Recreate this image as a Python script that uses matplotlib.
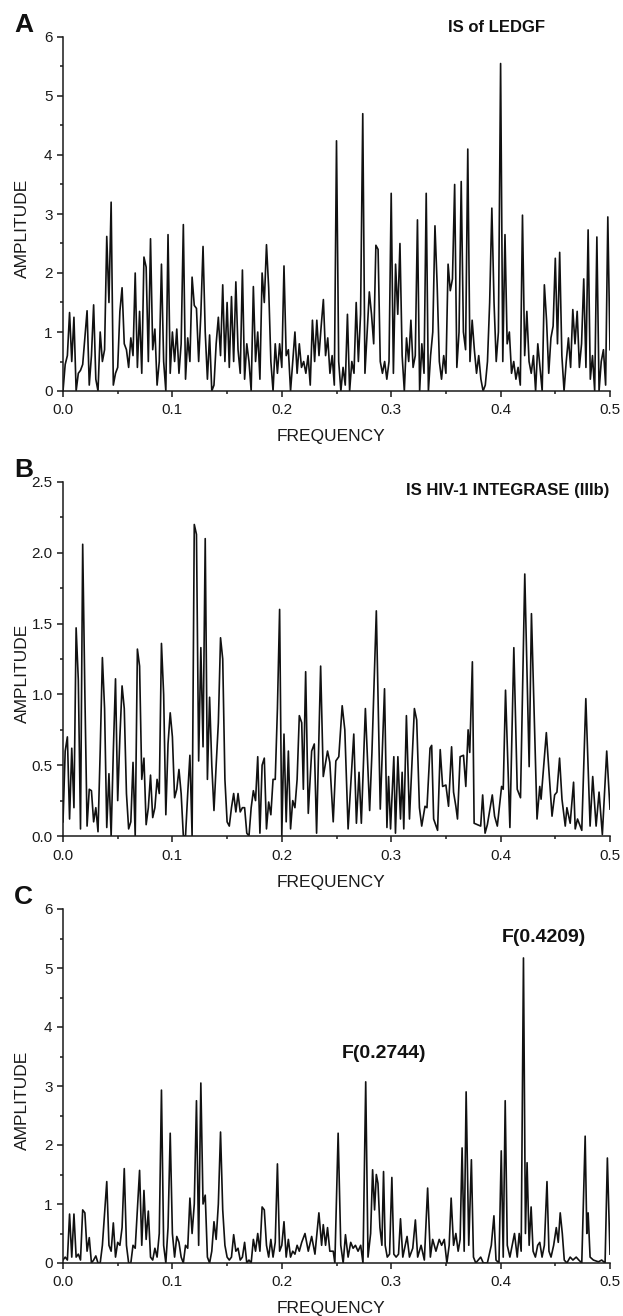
import numpy as np
import matplotlib
matplotlib.use("Agg")
import matplotlib.pyplot as plt
from matplotlib.ticker import MultipleLocator

plt.rcParams['font.family'] = ['Liberation Sans', 'DejaVu Sans']

# ---- panel A: IS of LEDGF (grid step 0.002) ----
freq_a = np.round(np.arange(0, 0.5001, 0.002), 3)
amp_a = [
    0.0, 0.45, 0.6, 1.33, 0.5, 1.25, 0.0, 0.3, 0.35, 0.45,
    0.9, 1.36, 0.1, 0.6, 1.46, 0.2, 0.0, 1.0, 0.5, 0.7,
    2.62, 1.5, 3.2, 0.1, 0.3, 0.4, 1.35, 1.75, 0.8, 0.7,
    0.4, 0.9, 0.6, 2.0, 0.4, 1.35, 0.3, 2.27, 2.1, 0.5,
    2.58, 0.7, 1.05, 0.1, 0.5, 2.15, 0.5, 0.0, 2.65, 0.3,
    1.0, 0.5, 1.05, 0.3, 0.8, 2.82, 0.2, 0.9, 0.5, 1.93,
    1.45, 1.4, 0.5, 1.3, 2.45, 1.0, 0.2, 0.95, 0.0, 0.1,
    0.8, 1.25, 0.6, 1.8, 0.5, 1.5, 0.4, 1.6, 0.5, 1.85,
    0.7, 0.3, 2.05, 0.2, 0.8, 0.5, 0.0, 1.77, 0.5, 1.0,
    0.2, 2.0, 1.5, 2.48, 1.75, 0.5, 0.0, 0.8, 0.3, 0.8,
    0.4, 2.12, 0.6, 0.7, 0.0, 0.5, 1.0, 0.3, 0.8, 0.4,
    0.5, 0.3, 0.6, 0.1, 1.2, 0.5, 1.2, 0.6, 1.1, 1.55,
    0.6, 0.9, 0.3, 0.6, 0.1, 4.24, 0.5, 0.0, 0.4, 0.1,
    1.3, 0.0, 0.5, 0.3, 1.5, 0.5, 1.3, 4.7, 0.3, 1.0,
    1.68, 1.3, 0.8, 2.47, 2.4, 0.5, 0.3, 0.5, 0.2, 0.5,
    3.35, 0.3, 2.15, 1.3, 2.5, 0.6, 0.0, 0.9, 0.5, 1.2,
    0.4, 0.6, 2.9, 0.0, 0.8, 0.3, 3.35, 0.0, 0.6, 1.0,
    2.8, 1.8, 0.5, 0.2, 0.6, 0.3, 2.15, 1.7, 1.9, 3.5,
    0.4, 1.0, 3.55, 1.0, 0.7, 4.1, 0.5, 1.2, 0.7, 0.3,
    0.6, 0.2, 0.0, 0.1, 0.5, 1.5, 3.1, 1.5, 0.5, 1.0,
    5.55, 0.5, 2.65, 0.8, 1.0, 0.3, 0.5, 0.2, 0.4, 0.1,
    2.98, 0.6, 1.35, 0.5, 0.3, 0.6, 0.0, 0.8, 0.4, 0.0,
    1.8, 1.2, 0.3, 0.9, 1.1, 2.25, 0.8, 2.35, 0.6, 0.0,
    0.5, 0.9, 0.4, 1.38, 0.8, 1.35, 0.4, 0.8, 1.9, 0.4,
    2.73, 0.2, 0.6, 0.0, 2.61, 0.0, 0.5, 0.7, 0.1, 2.95,
    0.7,
]

# ---- panel B: IS HIV-1 INTEGRASE (IIIb) ----
freq_b_left = np.round(np.arange(0, 0.2161, 0.002), 3)
amp_b_left = [
    0.1, 0.6, 0.7, 0.12, 0.62, 0.2, 1.47, 1.1, 0.05, 2.06,
    1.0, 0.07, 0.33, 0.32, 0.1, 0.2, 0.03, 0.6, 1.26, 0.9,
    0.06, 0.44, 0.0, 0.6, 1.11, 0.25, 0.7, 1.06, 0.9, 0.3,
    0.05, 0.1, 0.52, 0.0, 1.32, 1.2, 0.4, 0.55, 0.08, 0.2,
    0.43, 0.13, 0.2, 0.4, 0.3, 1.36, 1.0, 0.15, 0.65, 0.87,
    0.7, 0.27, 0.33, 0.47, 0.3, 0.0, 0.0, 0.3, 0.57, 0.0,
    2.2, 2.13, 0.53, 1.33, 0.63, 2.1, 0.4, 0.98, 0.5, 0.18,
    0.5, 0.8, 1.4, 1.25, 0.4, 0.1, 0.07, 0.2, 0.3, 0.17,
    0.3, 0.17, 0.2, 0.2, 0.02, 0.0, 0.2, 0.32, 0.25, 0.56,
    0.02, 0.5, 0.55, 0.05, 0.24, 0.15, 0.4, 0.4, 0.9, 1.6,
    0.0, 0.72, 0.1, 0.6, 0.05, 0.25, 0.2, 0.4, 0.85,
]
freq_b_right = [
    0.2182, 0.2197, 0.2218, 0.2242, 0.2273, 0.2297, 0.2318, 0.2355, 0.2379, 0.2418,
    0.2439, 0.2470, 0.2494, 0.2521, 0.2552, 0.2576, 0.2606, 0.2658, 0.2682, 0.2706,
    0.2727, 0.2764, 0.2803, 0.2824, 0.2864, 0.2900, 0.2939, 0.2961, 0.2976, 0.2994,
    0.3024, 0.3039, 0.3061, 0.3085, 0.3100, 0.3115, 0.3139, 0.3167, 0.3212, 0.3233,
    0.3258, 0.3279, 0.3309, 0.3327, 0.3355, 0.3370, 0.3388, 0.3424, 0.3448, 0.3470,
    0.3500, 0.3524, 0.3552, 0.3570, 0.3591, 0.3606, 0.3630, 0.3661, 0.3682, 0.3703,
    0.3718, 0.3742, 0.3758, 0.3818, 0.3836, 0.3858, 0.3879, 0.3924, 0.3945, 0.3970,
    0.4009, 0.4024, 0.4045, 0.4085, 0.4121, 0.4152, 0.4182, 0.4221, 0.4261, 0.4282,
    0.4333, 0.4358, 0.4370, 0.4418, 0.4470, 0.4494, 0.4515, 0.4539, 0.4561, 0.4591,
    0.4606, 0.4636, 0.4667, 0.4682, 0.4703, 0.4742, 0.4779, 0.4818, 0.4842, 0.4873,
    0.4900, 0.4930, 0.4970, 0.5000,
]
amp_b_right = [
    0.80, 0.33, 1.16, 0.16, 0.60, 0.65, 0.02, 1.20, 0.42, 0.60,
    0.52, 0.10, 0.53, 0.56, 0.92, 0.75, 0.05, 0.72, 0.09, 0.45,
    0.09, 0.90, 0.18, 0.59, 1.59, 0.19, 1.04, 0.06, 0.42, 0.05,
    0.56, 0.02, 0.56, 0.12, 0.45, 0.05, 0.85, 0.12, 0.90, 0.82,
    0.20, 0.07, 0.21, 0.20, 0.62, 0.64, 0.12, 0.04, 0.61, 0.35,
    0.36, 0.21, 0.63, 0.31, 0.21, 0.12, 0.56, 0.57, 0.35, 0.75,
    0.59, 1.23, 0.09, 0.07, 0.29, 0.02, 0.08, 0.29, 0.14, 0.07,
    0.35, 0.33, 1.03, 0.06, 1.33, 0.33, 0.27, 1.85, 0.49, 1.57,
    0.12, 0.35, 0.26, 0.73, 0.14, 0.29, 0.31, 0.55, 0.26, 0.07,
    0.20, 0.09, 0.38, 0.05, 0.12, 0.04, 0.97, 0.07, 0.42, 0.07,
    0.31, 0.01, 0.60, 0.19,
]

# ---- panel C ----
freq_c_left = np.round(np.arange(0, 0.2161, 0.002), 3)
amp_c_left = [
    0.05, 0.1, 0.05, 0.83, 0.1, 0.83, 0.1, 0.15, 0.05, 0.9,
    0.85, 0.2, 0.43, 0.0, 0.05, 0.12, 0.0, 0.0, 0.3, 0.85,
    1.38, 0.3, 0.2, 0.68, 0.1, 0.35, 0.3, 0.6, 1.6, 0.3,
    0.0, 0.0, 0.3, 0.25, 0.9, 1.57, 0.3, 1.23, 0.4, 0.88,
    0.1, 0.05, 0.25, 0.1, 0.5, 2.93, 0.3, 0.0, 0.6, 2.2,
    0.5, 0.1, 0.45, 0.35, 0.1, 0.0, 0.3, 0.25, 1.1, 0.5,
    1.0, 2.75, 0.3, 3.05, 1.0, 1.15, 0.1, 0.0, 0.2, 0.7,
    0.4, 1.0, 2.22, 0.9, 0.3, 0.1, 0.05, 0.1, 0.48, 0.2,
    0.25, 0.05, 0.1, 0.35, 0.0, 0.05, 0.0, 0.4, 0.2, 0.5,
    0.2, 0.95, 0.9, 0.3, 0.1, 0.4, 0.1, 0.35, 1.68, 0.2,
    0.3, 0.7, 0.1, 0.4, 0.1, 0.2, 0.15, 0.3, 0.2,
]
freq_c_right = [
    0.2182, 0.2212, 0.2242, 0.2273, 0.2303, 0.2339, 0.2364, 0.2379, 0.2400, 0.2418,
    0.2439, 0.2470, 0.2485, 0.2515, 0.2539, 0.2561, 0.2582, 0.2606, 0.2630, 0.2652,
    0.2673, 0.2697, 0.2721, 0.2742, 0.2767, 0.2788, 0.2812, 0.2830, 0.2848, 0.2864,
    0.2879, 0.2897, 0.2915, 0.2930, 0.2945, 0.2964, 0.2985, 0.3006, 0.3024, 0.3045,
    0.3067, 0.3085, 0.3106, 0.3145, 0.3167, 0.3197, 0.3221, 0.3242, 0.3273, 0.3303,
    0.3333, 0.3358, 0.3379, 0.3409, 0.3439, 0.3461, 0.3485, 0.3509, 0.3530, 0.3548,
    0.3570, 0.3591, 0.3612, 0.3630, 0.3648, 0.3667, 0.3685, 0.3709, 0.3733, 0.3752,
    0.3773, 0.3818, 0.3842, 0.3879, 0.3915, 0.3939, 0.3958, 0.3985, 0.4006, 0.4024,
    0.4042, 0.4061, 0.4085, 0.4106, 0.4127, 0.4152, 0.4170, 0.4188, 0.4209, 0.4227,
    0.4242, 0.4261, 0.4279, 0.4297, 0.4318, 0.4339, 0.4358, 0.4379, 0.4400, 0.4424,
    0.4442, 0.4461, 0.4485, 0.4509, 0.4527, 0.4545, 0.4564, 0.4582, 0.4606, 0.4636,
    0.4661, 0.4691, 0.4715, 0.4742, 0.4773, 0.4788, 0.4800, 0.4818, 0.4848, 0.4894,
    0.4924, 0.4955, 0.4976, 0.5000,
]
amp_c_right = [
    0.35, 0.5, 0.2, 0.45, 0.15, 0.85, 0.3, 0.65, 0.3, 0.6,
    0.2, 0.2, 0.0, 2.2, 0.3, 0.0, 0.48, 0.1, 0.35, 0.25,
    0.3, 0.2, 0.3, 0.0, 3.07, 0.1, 0.5, 1.58, 0.9, 1.5,
    1.35, 0.6, 0.3, 1.55, 0.3, 0.1, 0.15, 1.45, 0.15, 0.1,
    0.15, 0.75, 0.1, 0.45, 0.1, 0.25, 0.73, 0.1, 0.3, 0.05,
    1.27, 0.1, 0.4, 0.2, 0.4, 0.3, 0.4, 0.0, 0.3, 1.1,
    0.3, 0.5, 0.2, 0.4, 1.95, 0.2, 2.9, 0.3, 1.75, 0.1,
    0.0, 0.1, 0.0, 0.0, 0.3, 0.8, 0.05, 0.0, 1.9, 0.1,
    2.75, 0.3, 0.1, 0.3, 0.5, 0.1, 0.5, 0.2, 5.17, 0.5,
    1.7, 0.3, 0.95, 0.2, 0.1, 0.3, 0.35, 0.1, 0.3, 1.38,
    0.2, 0.1, 0.3, 0.6, 0.35, 0.85, 0.5, 0.05, 0.0, 0.1,
    0.05, 0.1, 0.05, 0.0, 2.15, 0.5, 0.85, 0.1, 0.05, 0.02,
    0.05, 0.0, 1.78, 0.15,
]

freq_b = np.concatenate([freq_b_left, freq_b_right])
amp_b = np.concatenate([amp_b_left, amp_b_right])
freq_c = np.concatenate([freq_c_left, freq_c_right])
amp_c = np.concatenate([amp_c_left, amp_c_right])

W, H = 623, 1316
fig = plt.figure(figsize=(W / 100, H / 100), dpi=100)

def px_rect(left, top, right, bottom):
    return [left / W, 1 - bottom / H, (right - left) / W, (bottom - top) / H]

def style_axes(ax, ymax, ymajor, yfmt):
    ax.set_xlim(0, 0.5)
    ax.set_ylim(0, ymax)
    for s in ['top', 'right']:
        ax.spines[s].set_visible(False)
    for s in ['left', 'bottom']:
        ax.spines[s].set_linewidth(1.1)
        ax.spines[s].set_color('#1a1a1a')
    ax.xaxis.set_major_locator(MultipleLocator(0.1))
    ax.xaxis.set_minor_locator(MultipleLocator(0.05))
    ax.yaxis.set_major_locator(MultipleLocator(ymajor))
    ax.yaxis.set_minor_locator(MultipleLocator(ymajor / 2))
    ax.xaxis.set_major_formatter(plt.FormatStrFormatter('%.1f'))
    ax.yaxis.set_major_formatter(plt.FormatStrFormatter(yfmt))
    ax.tick_params(which='major', direction='out', length=4.5, width=1.1,
                   labelsize=11, colors='#1a1a1a', pad=3)
    ax.tick_params(which='minor', direction='out', length=2.5, width=1.1,
                   colors='#1a1a1a')
    ax.tick_params(axis='x', which='major', pad=4.5)

panels = [
    ('A', freq_a, amp_a, 37, 391, 6, 1, '%d'),
    ('B', freq_b, amp_b, 482, 836, 2.5, 0.5, '%.1f'),
    ('C', freq_c, amp_c, 909, 1263, 6, 1, '%d'),
]

for letter, fx, fy, top, bottom, ymax, ymajor, yfmt in panels:
    ax = fig.add_axes(px_rect(63, top, 610, bottom))
    ax.plot(fx, fy, color='#111111', lw=1.2)
    style_axes(ax, ymax, ymajor, yfmt)
    fig.text(23.5 / W, 1 - (top - 12) / H, letter, fontsize=19, fontweight='bold',
             ha='center', va='center', color='#111111')
    fig.text(331 / W, 1 - (bottom + 46) / H, 'FREQUENCY', fontsize=12.5,
             ha='center', va='center', color='#1a1a1a')
    fig.text(22 / W, 1 - ((top + bottom) / 2 + 14) / H, 'AMPLITUDE', fontsize=12.5,
             rotation=90, ha='center', va='center', color='#1a1a1a')

fig.text(497 / W, 1 - 28 / H, 'IS of LEDGF', fontsize=12, fontweight='bold',
         ha='center', va='center', color='#111111')
fig.text(609 / W, 1 - 490 / H, 'IS HIV-1 INTEGRASE (IIIb)', fontsize=12,
         fontweight='bold', ha='right', va='center', color='#111111')
fig.text(384 / W, 1 - 1053 / H, 'F(0.2744)', fontsize=14, fontweight='bold',
         ha='center', va='center', color='#111111')
fig.text(544 / W, 1 - 937 / H, 'F(0.4209)', fontsize=14, fontweight='bold',
         ha='center', va='center', color='#111111')

fig.savefig('out.png', dpi=100)
